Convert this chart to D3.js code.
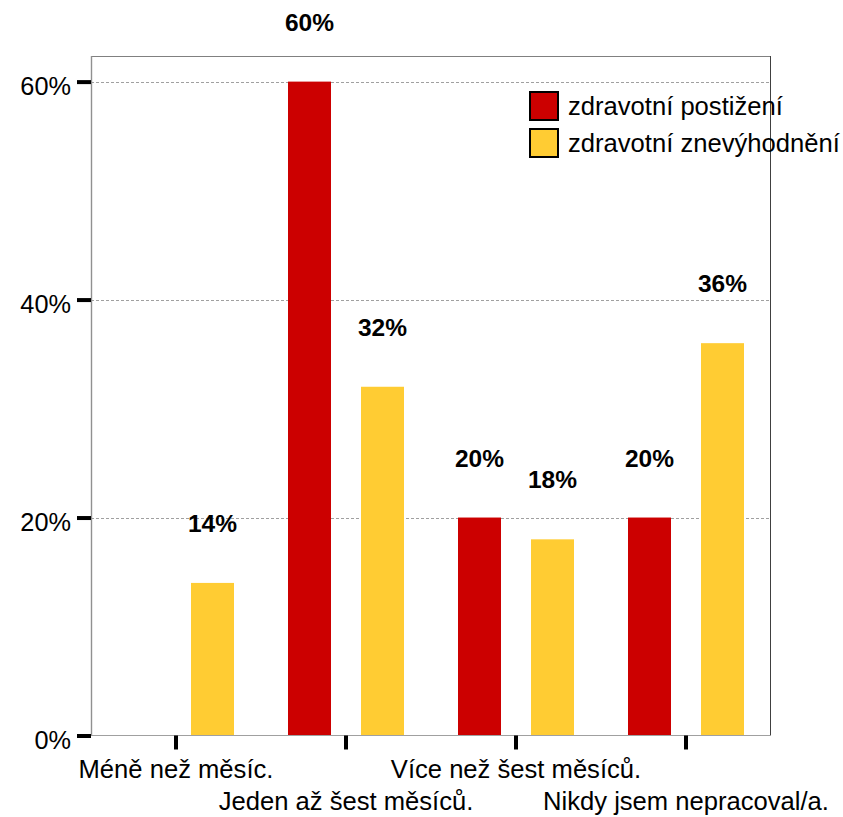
<!DOCTYPE html>
<html>
<head>
<meta charset="utf-8">
<script src="https://cdn.jsdelivr.net/npm/d3@7/dist/d3.min.js"></script>
<style>
  html, body { margin: 0; padding: 0; background: #fff; }
  svg { display: block; font-family: "Liberation Sans", Arial, sans-serif; }
</style>
</head>
<body>
<svg id="chart" width="843" height="817"></svg>
<script>
const categories = ["Méně než měsíc.", "Jeden až šest měsíců.", "Více než šest měsíců.", "Nikdy jsem nepracoval/a."];
const seriesNames = ["zdravotní postižení", "zdravotní znevýhodnění"];
const postizeni = [null, 60, 20, 20];
const znevyhodneni = [14, 32, 18, 36];
const yTicks = [0, 20, 40, 60];
const colors = ["#CC0000", "#FFCC33"];

const svg = d3.select("#chart");
const pLeft = 91, pRight = 771, pTop = 56, pBottom = 735.5;

const x0 = d3.scaleBand().domain(categories).range([pLeft, pRight]).padding(0);
const x1 = d3.scaleBand().domain(seriesNames).range([27, 143]).paddingInner(0.411).paddingOuter(0);
const y = d3.scaleLinear().domain([0, 62.35]).range([pBottom, pTop]);

// gridlines
svg.append("g").selectAll("line").data(yTicks.filter(d => d > 0)).join("line")
  .attr("x1", pLeft).attr("x2", pRight - 1)
  .attr("y1", d => Math.round(y(d)) + 0.5).attr("y2", d => Math.round(y(d)) + 0.5)
  .attr("stroke", "#a0a0a0").attr("stroke-width", 1).attr("stroke-dasharray", "3,2");

// bars
const data = [];
categories.forEach((c, i) => {
  [postizeni[i], znevyhodneni[i]].forEach((v, j) => {
    if (v !== null) data.push({cat: c, series: seriesNames[j], value: v, color: colors[j]});
  });
});

svg.append("g").selectAll("rect").data(data).join("rect")
  .attr("x", d => x0(d.cat) + x1(d.series))
  .attr("width", x1.bandwidth())
  .attr("y", d => y(d.value))
  .attr("height", d => y(0) - y(d.value))
  .attr("fill", d => d.color);

// value labels
svg.append("g").selectAll("text").data(data).join("text")
  .attr("x", d => x0(d.cat) + x1(d.series) + x1.bandwidth() / 2)
  .attr("y", d => y(d.value) - 51)
  .attr("text-anchor", "middle")
  .attr("font-weight", "bold")
  .attr("font-size", "24.5px")
  .attr("fill", "#000")
  .text(d => d.value + "%");

// frame
svg.append("line").attr("x1", pLeft).attr("x2", pRight).attr("y1", pTop + 0.5).attr("y2", pTop + 0.5)
  .attr("stroke", "#808080").attr("stroke-width", 1);
svg.append("line").attr("x1", pRight - 0.5).attr("x2", pRight - 0.5).attr("y1", pTop).attr("y2", pBottom)
  .attr("stroke", "#404040").attr("stroke-width", 1);
svg.append("line").attr("x1", pLeft).attr("x2", pRight).attr("y1", pBottom).attr("y2", pBottom)
  .attr("stroke", "#a0a0a0").attr("stroke-width", 1.2);
svg.append("line").attr("x1", pLeft + 0.5).attr("x2", pLeft + 0.5).attr("y1", pTop).attr("y2", pBottom)
  .attr("stroke", "#909090").attr("stroke-width", 1.4);

// y axis
const yAxis = d3.axisLeft(y).tickValues(yTicks).tickFormat(d => d + "%").tickSize(14).tickPadding(6);
const gy = svg.append("g").attr("transform", `translate(${pLeft},0)`).call(yAxis);
gy.select(".domain").remove();
gy.selectAll(".tick line").attr("stroke", "#000").attr("stroke-width", 4);
gy.selectAll(".tick text").attr("font-size", "25.3px").attr("font-family", "Liberation Sans, Arial, sans-serif")
  .attr("fill", "#000").attr("dy", "0.52em");

// x axis
const xAxis = d3.axisBottom(x0).tickSize(14).tickFormat("");
const gx = svg.append("g").attr("transform", `translate(0,${pBottom})`).call(xAxis);
gx.select(".domain").remove();
gx.selectAll(".tick line").attr("stroke", "#000").attr("stroke-width", 4);
gx.selectAll(".tick text").remove();

svg.append("g").selectAll("text").data(categories).join("text")
  .attr("x", d => x0(d) + x0.bandwidth() / 2)
  .attr("y", (d, i) => i % 2 === 0 ? 778 : 810)
  .attr("text-anchor", "middle")
  .attr("font-size", "25.6px")
  .attr("fill", "#000")
  .text(d => d);

// legend
const lg = svg.append("g").selectAll("g").data(seriesNames).join("g")
  .attr("transform", (d, i) => `translate(530,${92 + i * 37})`);
lg.append("rect").attr("width", 28).attr("height", 28)
  .attr("fill", (d, i) => colors[i]).attr("stroke", "#000").attr("stroke-width", 2);
lg.append("text").attr("x", 38).attr("y", 23).attr("font-size", "25.6px").attr("fill", "#000").text(d => d);
</script>
</body>
</html>
